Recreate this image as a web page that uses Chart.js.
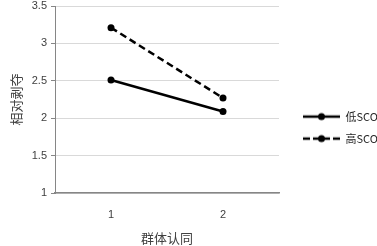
<!DOCTYPE html>
<html><head><meta charset="utf-8">
<script src="https://cdn.jsdelivr.net/npm/chart.js@4/dist/chart.umd.min.js"></script>
<style>html,body{margin:0;padding:0;background:#fff}#wrap{width:377px;height:246px}</style>
</head><body><div id="wrap"><canvas id="c" width="377" height="246"></canvas></div>
<script>
const categories = ['1', '2'];
const lowSCO = [2.51, 2.09];
const highSCO = [3.21, 2.27];
const seriesNames = ['低SCO', '高SCO'];
const yTicks = [1, 1.5, 2, 2.5, 3, 3.5];

function legendIcon(dash) {
  const cv = document.createElement('canvas');
  cv.width = 50; cv.height = 10;
  const g = cv.getContext('2d');
  g.strokeStyle = '#000'; g.lineWidth = 2.5;
  g.setLineDash(dash);
  g.beginPath(); g.moveTo(13, 5); g.lineTo(50, 5); g.stroke();
  g.setLineDash([]);
  g.fillStyle = '#000';
  g.beginPath(); g.arc(31.5, 5, 3.5, 0, Math.PI * 2); g.fill();
  return cv;
}
const icons = [legendIcon([]), legendIcon([7, 3])];

new Chart(document.getElementById('c'), {
  type: 'line',
  data: {
    labels: categories,
    datasets: [
      { label: seriesNames[0], data: lowSCO, borderColor: '#000', backgroundColor: '#000', borderWidth: 2.5, pointRadius: 3.5, pointBackgroundColor: '#000', pointBorderWidth: 0, tension: 0 },
      { label: seriesNames[1], data: highSCO, borderColor: '#000', backgroundColor: '#000', borderWidth: 2.5, borderDash: [7, 4], pointRadius: 3.5, pointBackgroundColor: '#000', pointBorderWidth: 0, tension: 0 }
    ]
  },
  options: {
    responsive: false,
    animation: false,
    devicePixelRatio: 1,
    layout: { padding: { top: 0, left: 4, right: 0, bottom: 0 } },
    plugins: {
      tooltip: { enabled: false },
      legend: {
        position: 'right',
        maxWidth: 98,
        title: { display: true, text: ' ', font: { size: 6 }, padding: 1 },
        labels: {
          usePointStyle: true,
          pointStyleWidth: 50,
          boxHeight: 10,
          color: '#262626',
          font: { family: "'Noto Sans CJK SC', 'Liberation Sans'", size: 11 },
          padding: 11,
          generateLabels: (chart) => chart.data.datasets.map((d, i) => ({
            text: d.label, pointStyle: icons[i], fillStyle: '#000', strokeStyle: '#000', lineWidth: 0, datasetIndex: i, fontColor: '#262626'
          }))
        }
      }
    },
    scales: {
      x: {
        type: 'category',
        offset: true,
        afterFit: (s) => { s.height = 53; s.paddingLeft = 0; s.paddingRight = 0; },
        grid: { display: false, drawTicks: false },
        border: { color: '#868686', width: 1.5 },
        ticks: { color: '#404040', font: { family: "'Liberation Sans'", size: 11 }, padding: 15 },
        title: { display: true, text: '群体认同', color: '#404040', font: { family: "'Noto Sans CJK SC'", size: 13 }, padding: { top: 6, bottom: 0 } }
      },
      y: {
        min: 1, max: 3.5,
        afterFit: (s) => { s.width = 51; s.paddingTop = 6; s.paddingBottom = 0; },
        afterBuildTicks: (s) => { s.ticks = yTicks.map(v => ({ value: v })); },
        grid: { color: '#d9d9d9', lineWidth: 1, tickLength: 4, tickColor: '#868686' },
        border: { color: '#868686', width: 1 },
        ticks: { color: '#404040', font: { family: "'Liberation Sans'", size: 11 }, padding: 4, callback: (v) => String(v) },
        title: { display: true, text: '相对剥夺', color: '#404040', font: { family: "'Noto Sans CJK SC'", size: 13 }, padding: { top: 4, bottom: 6 } }
      }
    }
  }
});
</script></body></html>
